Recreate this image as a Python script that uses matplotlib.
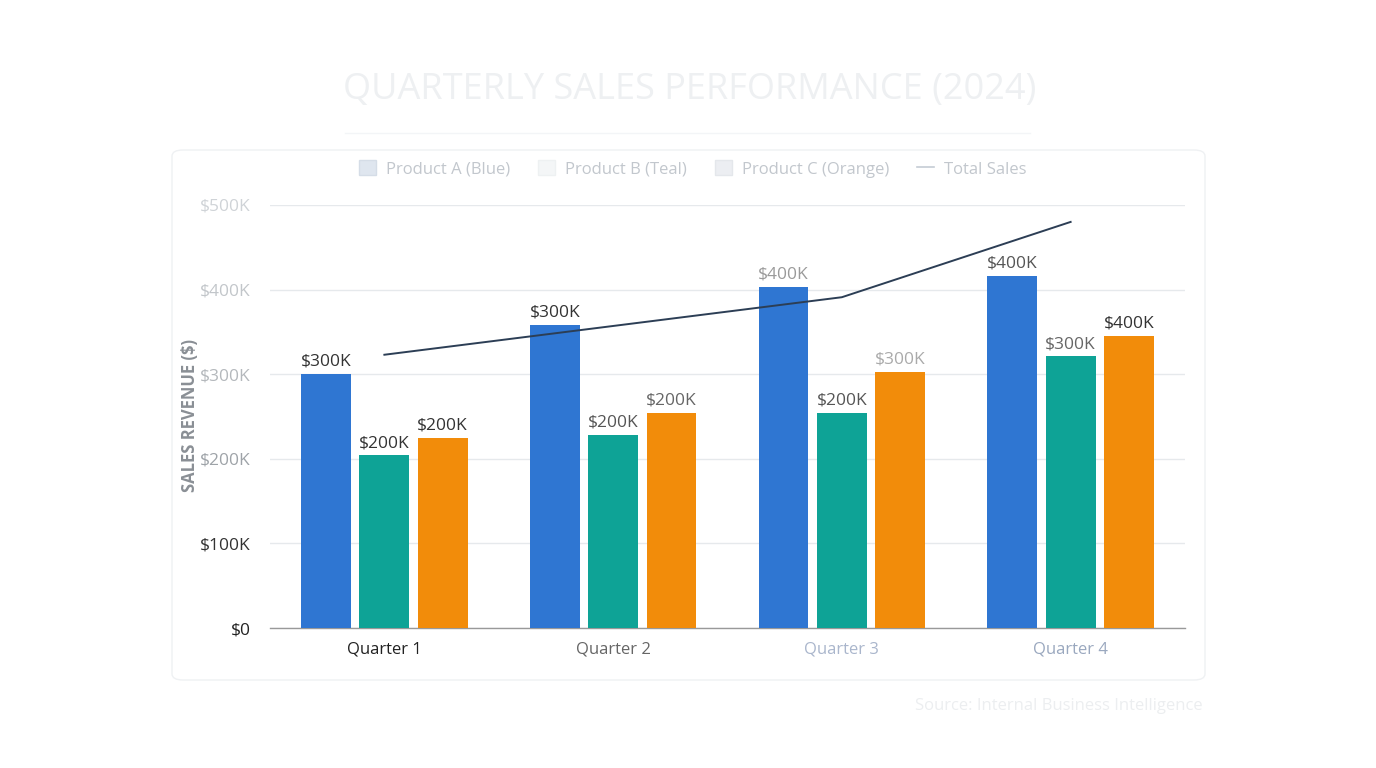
import matplotlib
matplotlib.use("Agg")
import matplotlib.pyplot as plt
from matplotlib.patches import FancyBboxPatch, Patch
from matplotlib.lines import Line2D
import numpy as np

plt.rcParams['font.family'] = ['Open Sans', 'DejaVu Sans']

quarters = ["Quarter 1", "Quarter 2", "Quarter 3", "Quarter 4"]
product_a = [300, 358, 403, 416]
product_b = [204, 228, 254, 321]
product_c = [225, 254, 303, 345]
total_sales = [323, 357, 391, 480]
labels_a = ["$300K", "$300K", "$400K", "$400K"]
labels_b = ["$200K", "$200K", "$200K", "$300K"]
labels_c = ["$200K", "$200K", "$300K", "$400K"]
yticks = [0, 100, 200, 300, 400, 500]
ytick_labels = ["$0", "$100K", "$200K", "$300K", "$400K", "$500K"]

# washed-out look of the reference
ytick_colors = ["#222222", "#333333", "#9ea3a8", "#b4b8bc", "#c2c6ca", "#cfd3d7"]
xtick_colors = ["#222222", "#666666", "#aab6cc", "#9aa8bf"]
lab_colors_a = ["#333333", "#333333", "#9a9a9a", "#555555"]
lab_colors_b = ["#333333", "#555555", "#555555", "#666666"]
lab_colors_c = ["#333333", "#666666", "#aaaaaa", "#333333"]

fig = plt.figure(figsize=(13.76, 7.68), dpi=100)

card = FancyBboxPatch((172 / 1376, 1 - 680 / 768), (1205 - 172) / 1376, (680 - 150) / 768,
                      boxstyle="round,pad=0,rounding_size=0.008", transform=fig.transFigure,
                      facecolor="white", edgecolor="#eff1f3", linewidth=1.0, zorder=-10)
fig.patches.append(card)

ax = fig.add_axes([270 / 1376, 1 - 628 / 768, (1185 - 270) / 1376, (628 - 205) / 768])
ax.set_facecolor("none")

x = np.arange(len(quarters))
w = 0.218
step = 0.255
bars_a = ax.bar(x - step, product_a, w, color="#2f76d2", zorder=3)
bars_b = ax.bar(x, product_b, w, color="#0ea396", zorder=3)
bars_c = ax.bar(x + step, product_c, w, color="#f28c0a", zorder=3)

for bars, labs, cols in [(bars_a, labels_a, lab_colors_a),
                         (bars_b, labels_b, lab_colors_b),
                         (bars_c, labels_c, lab_colors_c)]:
    for b, lab, c in zip(bars, labs, cols):
        ax.text(b.get_x() + b.get_width() / 2, b.get_height() + 5, lab,
                ha="center", va="bottom", fontsize=12.5, color=c, zorder=5)

ax.plot(x, total_sales, color="#2c3e55", linewidth=1.4, zorder=4)

ax.set_xlim(-0.5, 3.5)
ax.set_ylim(0, 500)
ax.set_yticks(yticks)
ax.set_yticklabels(ytick_labels, fontsize=12.5)
for t, c in zip(ax.get_yticklabels(), ytick_colors):
    t.set_color(c)
ax.set_xticks(x)
ax.set_xticklabels(quarters, fontsize=12)
for t, c in zip(ax.get_xticklabels(), xtick_colors):
    t.set_color(c)
ax.tick_params(axis="both", length=0)
ax.tick_params(axis="y", pad=14)
ax.tick_params(axis="x", pad=10)
ax.grid(axis="y", color="#e6e9ec", linewidth=1.0, zorder=0)
for s in ["top", "right", "left"]:
    ax.spines[s].set_visible(False)
ax.spines["bottom"].set_color("#999999")
ax.spines["bottom"].set_linewidth(1.0)

fig.text(190 / 1376, 1 - 415 / 768, "SALES REVENUE ($)", rotation=90, ha="center", va="center",
         fontsize=12, fontweight="bold", color="#8a8f95")

fig.text(690 / 1376, 1 - 90 / 768, "QUARTERLY SALES PERFORMANCE (2024)", ha="center", va="center",
         fontsize=26, color="#eef0f2")
fig.add_artist(Line2D([345 / 1376, 1030 / 1376], [1 - 133 / 768] * 2, transform=fig.transFigure,
                      color="#f3f5f7", linewidth=1))

handles = [Patch(facecolor="#dfe6ef", edgecolor="#d5dde7"),
           Patch(facecolor="#f4f6f7", edgecolor="#eef1f2"),
           Patch(facecolor="#eceef2", edgecolor="#e4e7eb"),
           Line2D([0], [0], color="#c5ccd4", linewidth=1.2)]
names = ["Product A (Blue)", "Product B (Teal)", "Product C (Orange)", "Total Sales"]
leg = fig.legend(handles, names, loc="center", bbox_to_anchor=(693 / 1376, 1 - 169 / 768),
                 ncol=4, frameon=False, fontsize=12, handlelength=1.0, handleheight=1.0,
                 columnspacing=1.7, handletextpad=0.6)
for t in leg.get_texts():
    t.set_color("#c2c7cd")

fig.text(1203 / 1376, 1 - 706 / 768, "Source: Internal Business Intelligence", ha="right", va="center",
         fontsize=12, color="#eceef0")

fig.savefig("out.png", dpi=100, facecolor="white")
